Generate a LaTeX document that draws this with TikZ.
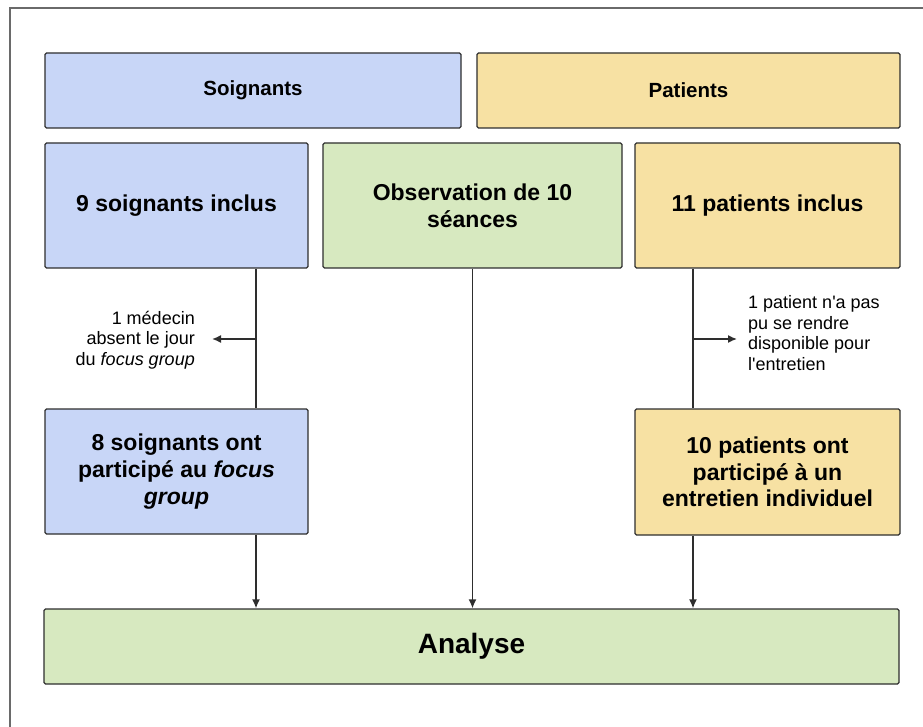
\documentclass[tikz,border=0pt]{standalone}
\usepackage{xcolor}
\usepackage{fontspec}
\setmainfont{Liberation Sans}
\usepackage{tikz}
\usetikzlibrary{shapes,arrows,arrows.meta,positioning}

\definecolor{soinblue}{HTML}{C8D6F7}
\definecolor{patyellow}{HTML}{F7E1A3}
\definecolor{obsgreen}{HTML}{D7E9C0}
\definecolor{edgegray}{HTML}{2E2E2E}
\definecolor{framegray}{HTML}{6A6A6A}

\begin{document}
\begin{tikzpicture}[x=1pt, y=-1pt, >=latex]
    \tikzstyle{block} = [rectangle, rounded corners=1.5pt, draw=edgegray, line width=1.3pt, align=center, inner sep=4pt, font=\fontsize{23}{26.7}\selectfont\bfseries]
    \tikzstyle{head} = [block, minimum height=75pt, font=\fontsize{20.5}{24}\selectfont\bfseries]
    \tikzstyle{note} = [inner sep=0pt, font=\fontsize{18}{20.7}\selectfont]
    \tikzstyle{arrow} = [line width=1.5pt, draw=edgegray, -{Latex[length=9pt, width=8pt]}]
    \tikzstyle{link} = [line width=1.5pt, draw=edgegray]

    \useasboundingbox (0,0) rectangle (923,727);
    \draw[framegray, line width=1.8pt] (10,727) -- (10,8) -- (923,8);

    % headers
    \node[head, fill=soinblue, minimum width=416pt] (shead) at (253,90.5) {Soignants};
    \node[head, fill=patyellow, minimum width=423pt] (phead) at (688.5,90.5) {Patients};

    % first row
    \node[block, fill=soinblue, minimum width=263pt, minimum height=125pt] (sinc) at (176.5,205.5) {9 soignants inclus};
    \node[block, fill=obsgreen, minimum width=299pt, minimum height=125pt] (obs) at (472.5,205.5) {Observation de 10\\séances};
    \node[block, fill=patyellow, minimum width=265pt, minimum height=125pt] (pinc) at (767.5,205.5) {11 patients inclus};

    % second row
    \node[block, fill=soinblue, minimum width=263pt, minimum height=125pt] (sfg) at (176.5,471.5) {8 soignants ont\\participé au \textit{focus}\\\textit{group}};
    \node[block, fill=patyellow, minimum width=265pt, minimum height=126pt] (pent) at (767.5,472) {10 patients ont\\participé à un\\entretien individuel};

    % analysis
    \node[block, fill=obsgreen, minimum width=855pt, minimum height=75pt, font=\fontsize{28}{32}\selectfont\bfseries] (ana) at (471.5,646.5) {Analyse};

    % exclusions
    \node[note, anchor=east, align=right] (smed) at (195,340) {1 médecin\\absent le jour\\du \textit{focus group}};
    \node[note, anchor=west, align=left] (pdis) at (748,333) {1 patient n\textquotesingle a pas\\pu se rendre\\disponible pour\\l\textquotesingle entretien};
    \coordinate (scol) at (256,0);
    \coordinate (pcol) at (693,0);
    \coordinate (smis) at (212,339);
    \coordinate (pmis) at (737,339);

    \draw[link] (scol |- sinc.south) -- (scol |- sfg.north);
    \draw[link] (pcol |- pinc.south) -- (pcol |- pent.north);
    \draw[arrow] (scol |- smis) -- (smis);
    \draw[arrow] (pcol |- pmis) -- (pmis);

    \draw[arrow] (scol |- sfg.south) -- (scol |- ana.north);
    \draw[arrow] (obs.south) -- (obs.south |- ana.north);
    \draw[arrow] (pcol |- pent.south) -- (pcol |- ana.north);
\end{tikzpicture}
\end{document}
